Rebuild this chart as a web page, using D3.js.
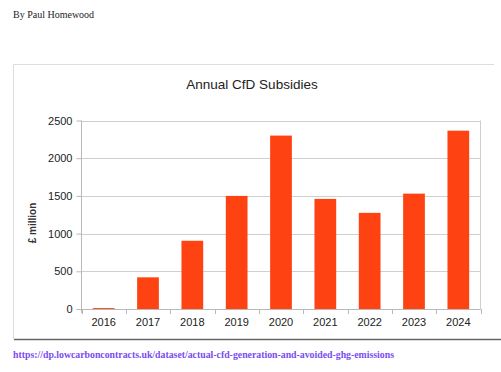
<!DOCTYPE html>
<html><head><meta charset="utf-8">
<script src="https://cdn.jsdelivr.net/npm/d3@7"></script>
<style>body{margin:0;background:#fff;}svg{display:block;}</style>
</head><body>
<script>
const years = ["2016","2017","2018","2019","2020","2021","2022","2023","2024"];
const subsidies = [12, 420, 905, 1500, 2300, 1460, 1275, 1530, 2365];
const yTicks = [0, 500, 1000, 1500, 2000, 2500];

const W = 501, H = 372;
const svg = d3.select("body").append("svg").attr("width", W).attr("height", H);

svg.append("text").attr("x", 13).attr("y", 18)
  .style("font-family", "Liberation Serif, serif").style("font-size", "10px").attr("fill", "#222")
  .text("By Paul Homewood");

// frame
svg.append("line").attr("x1", 13.5).attr("x2", 494).attr("y1", 64.5).attr("y2", 64.5).attr("stroke", "#ddd");
svg.append("line").attr("x1", 13.5).attr("x2", 13.5).attr("y1", 64.5).attr("y2", 339).attr("stroke", "#ddd");
svg.append("line").attr("x1", 14).attr("x2", 501).attr("y1", 339.5).attr("y2", 339.5).attr("stroke", "#666").attr("stroke-width", 1.5);

const x = d3.scaleBand().domain(years).range([81.5, 480.5]).paddingInner(0.51).paddingOuter(0.255);
const y = d3.scaleLinear().domain([0, 2500]).range([309, 120.5]);

// gridlines
svg.append("g").selectAll("line").data(yTicks).join("line")
  .attr("x1", 81.5).attr("x2", 480.5).attr("y1", d => Math.round(y(d)) + 0.5).attr("y2", d => Math.round(y(d)) + 0.5)
  .attr("stroke", "#cfcfcf");
svg.append("line").attr("x1", 480.5).attr("x2", 480.5).attr("y1", y(2500)).attr("y2", y(0)).attr("stroke", "#cfcfcf");

// bars
svg.append("g").selectAll("rect").data(years).join("rect")
  .attr("x", d => x(d)).attr("width", x.bandwidth())
  .attr("y", (d, i) => y(subsidies[i])).attr("height", (d, i) => y(0) - y(subsidies[i]))
  .attr("fill", "#ff4212");

// y axis
const yAxis = d3.axisLeft(y).tickValues(yTicks).tickSize(5).tickPadding(4).tickFormat(d3.format("d"));
const gy = svg.append("g").attr("transform", "translate(81.5,0)").call(yAxis);
gy.select(".domain").attr("stroke", "#b8b8b8").attr("d", `M0,${y(2500)}V${y(0)+4}`);
gy.selectAll(".tick line").attr("stroke", "#b8b8b8");
gy.selectAll("text").style("font-family", "Liberation Sans, Arial, sans-serif").style("font-size", "11px").attr("fill", "#222");

// x axis
const step = x.step();
const boundaries = d3.range(years.length + 1).map(i => 81.5 + i * step);
const gx = svg.append("g");
gx.append("line").attr("x1", 77).attr("x2", 480.5).attr("y1", 309.5).attr("y2", 309.5).attr("stroke", "#b8b8b8");
gx.selectAll("line.t").data(boundaries).join("line").attr("class", "t")
  .attr("x1", d => Math.round(d) + 0.5).attr("x2", d => Math.round(d) + 0.5).attr("y1", 309).attr("y2", 314)
  .attr("stroke", "#b8b8b8");
const xAxis = d3.axisBottom(x).tickSize(0).tickPadding(9);
const gxa = svg.append("g").attr("transform", "translate(0,309)").call(xAxis);
gxa.select(".domain").remove();
gxa.selectAll("text").style("font-family", "Liberation Sans, Arial, sans-serif").style("font-size", "11px").attr("fill", "#222");

// title
svg.append("text").attr("x", 252).attr("y", 89).attr("text-anchor", "middle")
  .style("font-family", "Liberation Sans, Arial, sans-serif").style("font-size", "13.5px").attr("fill", "#222")
  .text("Annual CfD Subsidies");

// y label
svg.append("text").attr("transform", "translate(36,223) rotate(-90)").attr("text-anchor", "middle")
  .style("font-family", "Liberation Sans, Arial, sans-serif").style("font-size", "10px").style("font-weight", "bold").attr("fill", "#333")
  .text("£ million");

// source link
svg.append("text").attr("x", 13).attr("y", 358)
  .style("font-family", "Liberation Serif, serif").style("font-size", "9.8px").style("font-weight", "bold").attr("fill", "#7a4cf0")
  .text("https://dp.lowcarboncontracts.uk/dataset/actual-cfd-generation-and-avoided-ghg-emissions");
</script>
</body></html>
